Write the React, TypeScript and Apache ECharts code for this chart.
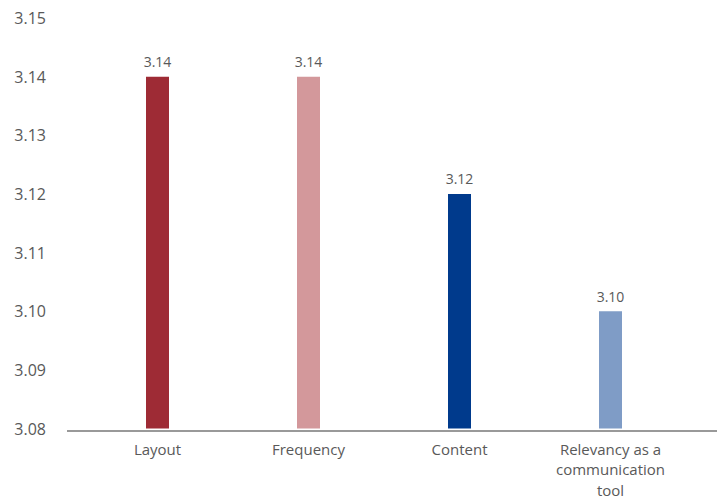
import React, { useEffect, useRef } from "react";
import * as echarts from "echarts";

const categories = ["Layout", "Frequency", "Content", "Relevancy as a\ncommunication\ntool"];
const values = [3.14, 3.14, 3.12, 3.1];
const barColors = ["#9E2B35", "#D3989B", "#003A8C", "#7F9CC6"];
const yTicks = { min: 3.08, max: 3.15, interval: 0.01 };

const FONT = "'Open Sans', 'Noto Sans', sans-serif";
const TEXT = "#595959";

export default function App() {
  const ref = useRef<HTMLDivElement>(null);

  useEffect(() => {
    if (!ref.current) return;
    const chart = echarts.init(ref.current, undefined, { renderer: "svg" });
    chart.setOption({
      animation: false,
      backgroundColor: "#ffffff",
      grid: { left: 82, right: 31, top: 18, bottom: 69, containLabel: false },
      xAxis: {
        type: "category",
        data: categories,
        axisLine: { show: false },
        axisTick: { show: false },
        axisLabel: {
          color: TEXT,
          fontFamily: FONT,
          fontSize: 15,
          lineHeight: 20.5,
          margin: 10,
          interval: 0,
        },
      },
      yAxis: {
        type: "value",
        min: yTicks.min,
        max: yTicks.max,
        interval: yTicks.interval,
        splitLine: { show: false },
        axisLine: { show: false },
        axisTick: { show: false },
        axisLabel: {
          color: TEXT,
          fontFamily: FONT,
          fontSize: 16,
          margin: 36,
          formatter: (v: number) => v.toFixed(2),
        },
      },
      graphic: [
        {
          type: "line",
          shape: { x1: 67, y1: 431, x2: 717, y2: 431 },
          style: { stroke: "#999999", lineWidth: 2 },
          z: 10,
        },
      ],
      series: [
        {
          type: "bar",
          barWidth: 23,
          data: values.map((v, i) => ({ value: v, itemStyle: { color: barColors[i] } })),
          label: {
            show: true,
            position: "top",
            distance: 8,
            color: TEXT,
            fontFamily: FONT,
            fontSize: 14,
            formatter: (p: any) => Number(p.value).toFixed(2),
          },
        },
      ],
    });
    return () => chart.dispose();
  }, []);

  return (
    <div
      ref={ref}
      style={{ position: "fixed", left: 0, top: 0, width: 717, height: 500 }}
    />
  );
}
